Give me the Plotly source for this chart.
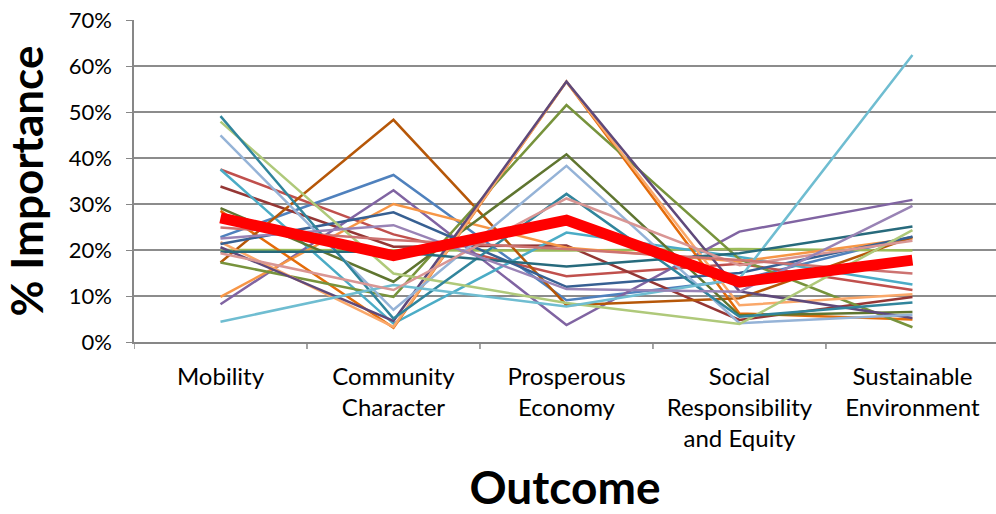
import plotly.graph_objects as go

categories = ["Mobility", "Community<br>Character", "Prosperous<br>Economy",
              "Social<br>Responsibility<br>and Equity", "Sustainable<br>Environment"]

s_blue = [22.8, 36.3, 9.1, 13.5, 22.9]
s_red = [37.5, 23.4, 14.3, 17.0, 11.3]
s_darkred = [33.8, 20.7, 21.0, 4.8, 9.8]
s_greenflat = [20.0, 20.0, 19.9, 20.2, 19.9]
s_purple = [8.2, 33.0, 3.7, 24.0, 30.9]
s_aqua = [37.5, 4.0, 23.8, 18.5, 12.5]
s_orange = [9.8, 30.0, 20.5, 17.5, 22.5]
s_orange2 = [28.5, 3.1, 56.6, 6.2, 4.9]
s_brown = [17.3, 48.3, 8.0, 9.5, 22.8]
s_green = [17.3, 9.8, 51.5, 18.0, 3.2]
s_olive = [29.1, 13.1, 40.8, 5.8, 6.5]
s_lightorange = [21.7, 3.3, 56.6, 8.0, 10.4]
s_darkpurple = [20.6, 4.6, 56.6, 11.0, 5.2]
s_darkblue = [21.3, 28.2, 12.0, 15.0, 22.9]
s_bluegray = [44.9, 7.0, 38.3, 4.1, 5.9]
s_lightgreen = [47.9, 14.9, 8.5, 3.9, 24.3]
s_darkteal = [49.1, 5.1, 32.2, 5.5, 8.6]
s_lightaqua = [4.4, 12.4, 7.7, 13.8, 62.4]
s_teal = [19.6, 19.6, 16.4, 19.3, 25.1]
s_pink = [19.3, 11.3, 31.2, 16.7, 22.0]
s_rose = [24.9, 22.2, 20.2, 17.8, 14.9]
s_lilac = [22.5, 25.4, 11.5, 10.9, 29.6]
average = [27.0, 18.8, 26.5, 13.0, 17.8]

series = [
    (s_blue, "#4F81BD"), (s_red, "#C0504D"), (s_darkred, "#953735"),
    (s_greenflat, "#9BBB59"), (s_purple, "#8064A2"), (s_aqua, "#4BACC6"),
    (s_orange, "#F79646"), (s_orange2, "#E46C0A"), (s_brown, "#B65708"),
    (s_green, "#77933C"), (s_olive, "#5F7530"), (s_lightorange, "#FAA86A"),
    (s_darkpurple, "#5F497A"), (s_darkblue, "#376092"), (s_bluegray, "#95B3D7"),
    (s_lightgreen, "#AFC97A"), (s_darkteal, "#31859C"), (s_lightaqua, "#6FBDD1"),
    (s_teal, "#276A7C"), (s_pink, "#D99694"), (s_rose, "#CD7371"), (s_lilac, "#9983B5"),
]

xs = list(range(len(categories)))
fig = go.Figure()
for vals, col in series:
    fig.add_trace(go.Scatter(x=xs, y=vals, mode="lines",
                             line=dict(color=col, width=2.5), showlegend=False))
fig.add_trace(go.Scatter(x=xs, y=average, mode="lines",
                         line=dict(color="#FF0000", width=11), showlegend=False))

font_fam = "Lato, 'Open Sans', sans-serif"
fig.update_layout(
    width=996, height=514,
    margin=dict(l=134, r=0, t=20, b=172),
    plot_bgcolor="white", paper_bgcolor="white",
    font=dict(family=font_fam, color="black", size=20),
    xaxis=dict(
        range=[-0.5, 4.483], tickmode="array", tickvals=xs, ticktext=categories,
        showgrid=False, showline=True, linecolor="#878787", linewidth=1.5,
        ticks="", tickfont=dict(size=24), zeroline=False, ticklabelstandoff=12,
        title=dict(text="<b>Outcome</b>", font=dict(size=46), standoff=22),
    ),
    yaxis=dict(
        range=[0, 70], dtick=10, ticksuffix="%", showgrid=True,
        gridcolor="#8C8C8C", gridwidth=1.5, showline=True, linecolor="#878787",
        linewidth=1.5, ticks="outside", ticklen=6, tickcolor="#878787",
        tickfont=dict(size=22), zeroline=False, ticklabelstandoff=10,
        title=dict(text="<b>% Importance</b>", font=dict(size=44), standoff=14),
    ),
)
# boundary tick marks on the category axis
for b in [-0.5, 0.5, 1.5, 2.5, 3.5]:
    fig.add_shape(type="line", xref="x", yref="paper", x0=b, x1=b, y0=0, y1=-0.022,
                  line=dict(color="#878787", width=1.5))
fig.write_html("out.html")
